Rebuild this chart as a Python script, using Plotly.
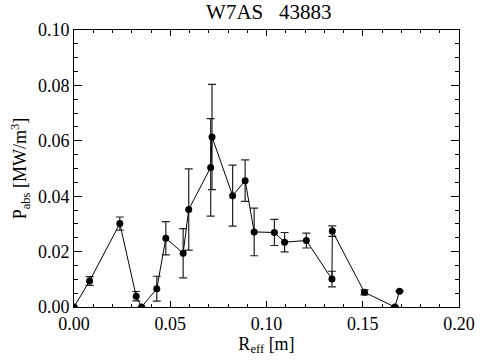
import plotly.graph_objects as go

# Absorbed power density profile, shot 43883
r_eff = [0.0, 0.0081, 0.0238, 0.0323, 0.0351, 0.0430, 0.0477, 0.0567, 0.0596,
         0.0710, 0.0717, 0.0824, 0.0889, 0.0936, 0.1041, 0.1094, 0.1207,
         0.1340, 0.1342, 0.1509, 0.1667, 0.1691]
p_abs = [0.0, 0.0094, 0.0301, 0.0039, 0.0, 0.0066, 0.0248, 0.0194, 0.0352,
         0.0504, 0.0614, 0.0402, 0.0456, 0.0271, 0.0269, 0.0234, 0.0240,
         0.0101, 0.0274, 0.0053, 0.0, 0.0057]
p_err = [0.0, 0.0016, 0.0024, 0.0017, 0.0, 0.0045, 0.0060, 0.0089, 0.0147,
         0.0176, 0.0190, 0.0110, 0.0075, 0.0086, 0.0047, 0.0035, 0.0027,
         0.0028, 0.0019, 0.0009, 0.0002, 0.0002]

x_ticks = [0.0, 0.05, 0.10, 0.15, 0.20]
y_ticks = [0.0, 0.02, 0.04, 0.06, 0.08, 0.10]

serif = "Liberation Serif"
tick_font = dict(family=serif, size=18, color="black")

fig = go.Figure()
fig.add_trace(go.Scatter(
    x=r_eff, y=p_abs,
    mode="lines+markers",
    line=dict(color="black", width=1),
    marker=dict(color="black", size=7),
    error_y=dict(type="data", array=p_err, visible=True,
                 color="#222222", thickness=1.2, width=4),
    showlegend=False,
))

axis_common = dict(
    showgrid=False, zeroline=False, showline=True, linecolor="black",
    linewidth=1, mirror="ticks", ticks="inside", tickcolor="black",
    tickwidth=1,
)

fig.update_layout(
    width=487, height=362,
    margin=dict(l=74, r=18, t=30, b=53),
    paper_bgcolor="white", plot_bgcolor="white",
    font=dict(family=serif, size=18, color="black"),
    title=dict(text="W7AS\u00a0\u00a0\u00a043883", x=0.552, xanchor="center",
               y=0.988, yanchor="top",
               font=dict(family=serif, size=21, color="black")),
    xaxis=dict(range=[0, 0.20], tickvals=x_ticks,
               ticktext=[f"{v:.2f}" for v in x_ticks], ticklen=6,
               tickfont=tick_font,
               minor=dict(dtick=0.01, ticks="inside", ticklen=3,
                          tickcolor="black", showgrid=False),
               title=dict(text="R<sub>eff</sub> [m]", standoff=4,
                          font=dict(family=serif, size=18, color="black")),
               **axis_common),
    yaxis=dict(range=[0, 0.10], tickvals=y_ticks,
               ticktext=[f"{v:.2f}" for v in y_ticks], ticklen=8,
               tickfont=tick_font,
               minor=dict(dtick=0.005, ticks="inside", ticklen=4,
                          tickcolor="black", showgrid=False),
               title=dict(text="P<sub>abs</sub> [MW/m<sup>3</sup>]", standoff=6,
                          font=dict(family=serif, size=18, color="black")),
               **axis_common),
)

fig.write_html("out.html")
